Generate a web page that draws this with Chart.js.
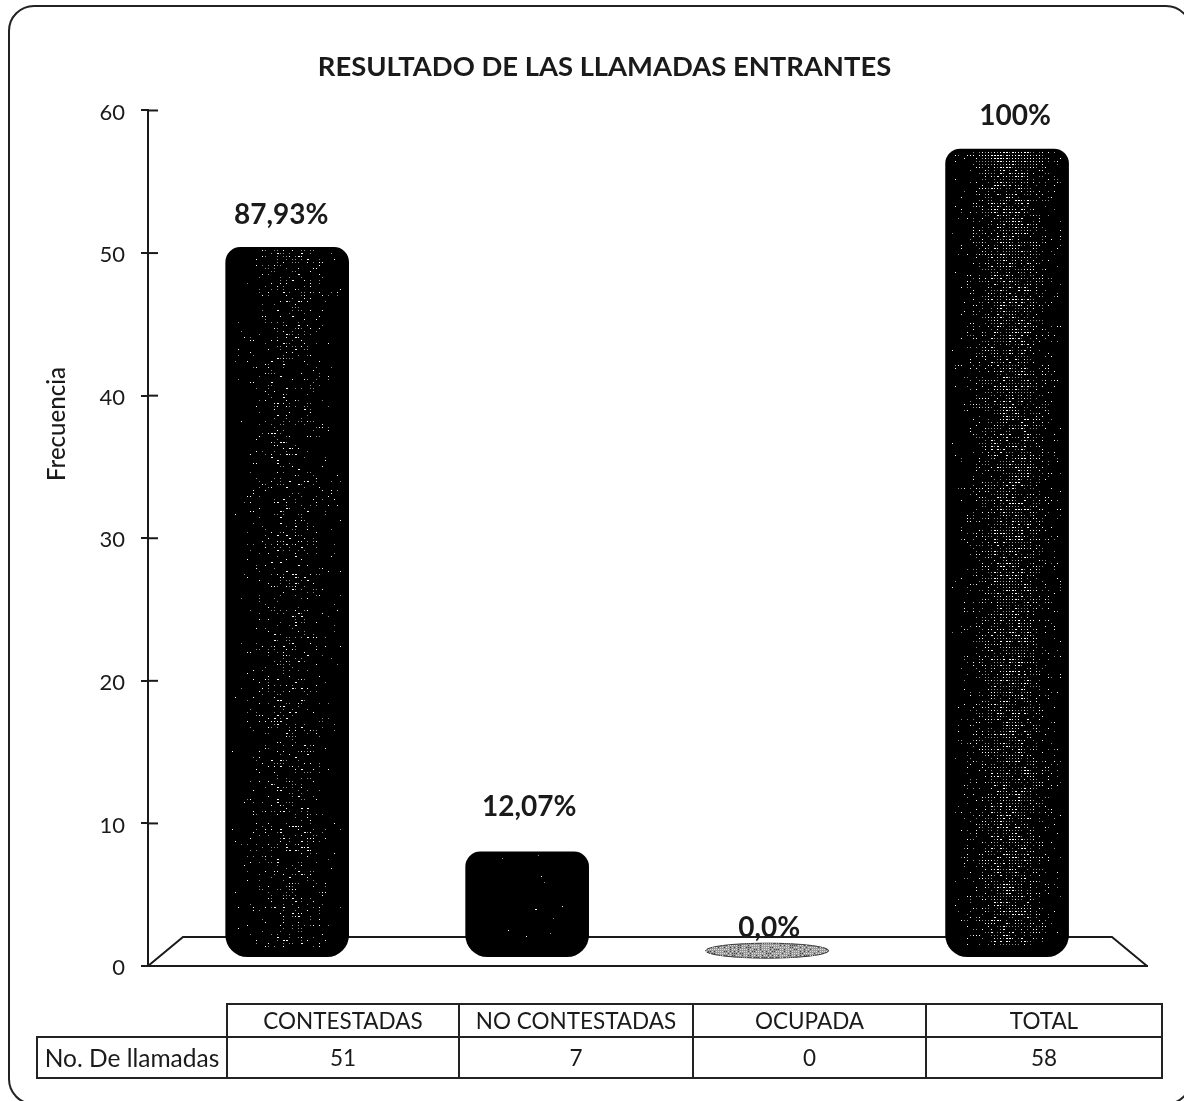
<!DOCTYPE html>
<html lang="es">
<head>
<meta charset="utf-8">
<title>Resultado de las llamadas entrantes</title>
<script src="https://cdn.jsdelivr.net/npm/chart.js@4"></script>
<style>
  html, body { margin: 0; padding: 0; background: #fff; }
  body { position: relative; width: 1184px; height: 1101px; overflow: hidden; font-family: Lato, sans-serif; color: #1a1a1a; }
  #chart { position: absolute; left: 0; top: 0; }
  .frame { position: absolute; left: 8px; top: 5px; width: 1184px; height: 1100px; border: 2px solid #222; border-radius: 26px; box-sizing: border-box; }
  #dataTable { position: absolute; left: 36px; top: 1003px; border-collapse: collapse; table-layout: fixed; width: 1125px; font-size: 22.5px; text-align: center; }
  #dataTable td { border: 2px solid #222; padding: 0; }
  #dataTable td.blank { border: none; }
  #dataTable td.rowName { font-size: 24.5px; white-space: nowrap; }
  #dataTable tr:first-child td { height: 31px; }
  #dataTable tr:last-child td { height: 39px; }
</style>
</head>
<body>
<div class="frame"></div>
<canvas id="chart" width="1184" height="1101"></canvas>
<table id="dataTable"></table>

<script>
// ── Data ────────────────────────────────────────────────────────────────────
const categories = ['CONTESTADAS', 'NO CONTESTADAS', 'OCUPADA', 'TOTAL'];
const callCounts = [51, 7, 0, 58];
const percentLabels = ['87,93%', '12,07%', '0,0%', '100%'];
// where the drawn bars sit on the axis (3D look, so not the table values)
const barTops = [50.4, 8.0, 1.6, 57.3];
const barBases = [0.65, 0.65, 0.55, 0.65];
const yTicks = [0, 10, 20, 30, 40, 50, 60];

// ── Styling per bar ─────────────────────────────────────────────────────────
const INK = '#1a1a1a';
const speckStrength = [0.28, 0.012, 0, 0.8];
const labelNudge = [[-6, -32], [2, -45], [2, -15], [8, -33]];

// repeatable grain for the scanned look, not data
function grain(x, y) {
  const s = Math.sin(x * 12.9898 + y * 78.233) * 43758.5453;
  return s - Math.floor(s);
}

const floorPlugin = {
  id: 'floor',
  beforeDatasetsDraw(chart) {
    const { ctx, chartArea: a } = chart;
    ctx.save();
    ctx.strokeStyle = INK;
    ctx.lineWidth = 2;
    ctx.beginPath();
    ctx.moveTo(a.left, a.bottom);
    ctx.lineTo(a.left + 35, a.bottom - 29);
    ctx.lineTo(a.right - 35, a.bottom - 29);
    ctx.lineTo(a.right, a.bottom);
    ctx.stroke();
    ctx.restore();
  }
};

const cylinderPlugin = {
  id: 'cylinder',
  afterDatasetsDraw(chart) {
    const { ctx } = chart;
    const bars = chart.getDatasetMeta(0).data;
    ctx.save();
    bars.forEach((bar, i) => {
      const hw = bar.width / 2;
      const top = bar.y, bottom = bar.base;

      // the empty category is only the cylinder's flat lid
      if (i === 2) {
        const cy = (top + bottom) / 2, ry = (bottom - top) / 2;
        ctx.fillStyle = '#9a9a9a';
        ctx.strokeStyle = '#333';
        ctx.lineWidth = 1;
        ctx.beginPath();
        ctx.ellipse(bar.x, cy, hw, ry, 0, 0, Math.PI * 2);
        ctx.fill();
        ctx.stroke();
        ctx.save();
        ctx.clip();
        for (let y = top; y < bottom; y += 2) {
          for (let x = bar.x - hw; x < bar.x + hw; x += 2) {
            ctx.fillStyle = grain(x, y) < 0.4 ? '#444' : '#ddd';
            ctx.fillRect(Math.round(x), Math.round(y), 1, 1);
          }
        }
        ctx.restore();
        return;
      }

      const strength = speckStrength[i];
      for (let y = top + 3; y < bottom - 10; y += 3) {
        // brighter patch just under the lid
        const lid = Math.max(0, 1 - Math.abs(y - top - 8) / 12);
        for (let x = bar.x - hw + 6; x < bar.x + hw - 6; x += 3) {
          const d = (x - bar.x - 2) / (hw * 0.55);
          const p = strength * Math.exp(-d * d) * (1 + 1.5 * lid);
          const g = grain(x, y);
          if (g < p) {
            ctx.fillStyle = g < p * 0.45 ? '#fff' : '#8c8c8c';
            ctx.fillRect(Math.round(x), Math.round(y), 1, 1);
            if (g < p * 0.2 && Math.abs(d) < 0.6) ctx.fillRect(Math.round(x) + 1, Math.round(y), 1, 1);
          }
        }
      }
    });
    ctx.restore();
  }
};

const annotationPlugin = {
  id: 'annotations',
  afterDraw(chart) {
    const { ctx, chartArea: a, scales: { y } } = chart;
    const bars = chart.getDatasetMeta(0).data;
    ctx.save();

    // ticks run through the axis line
    ctx.strokeStyle = INK;
    ctx.lineWidth = 2;
    yTicks.slice(1).forEach(v => {
      const py = y.getPixelForValue(v);
      ctx.beginPath();
      ctx.moveTo(a.left, py);
      ctx.lineTo(a.left + 10, py);
      ctx.stroke();
    });

    // percentage above each bar
    ctx.fillStyle = INK;
    ctx.font = 'bold 28px Lato';
    ctx.textAlign = 'center';
    ctx.textBaseline = 'middle';
    bars.forEach((bar, i) => {
      ctx.fillText(percentLabels[i], bar.x + labelNudge[i][0], bar.y + labelNudge[i][1]);
    });

    // axis title sits above the middle of the axis in the original
    ctx.font = '500 24px Lato';
    ctx.translate(57, 424);
    ctx.rotate(-Math.PI / 2);
    ctx.fillText('Frecuencia', 0, 0);
    ctx.restore();
  }
};

new Chart(document.getElementById('chart'), {
  type: 'bar',
  data: {
    datasets: [{
      label: 'No. De llamadas',
      data: categories.map((c, i) => ({ x: i, y: [barBases[i], barTops[i]] })),
      backgroundColor: ['#000', '#000', 'rgba(0,0,0,0)', '#000'],
      borderRadius: { topLeft: 15, topRight: 15, bottomLeft: 22, bottomRight: 22 },
      borderSkipped: false,
      barThickness: 123
    }]
  },
  options: {
    responsive: false,
    animation: false,
    layout: { padding: { left: 62, right: 37, top: 0, bottom: 127 } },
    plugins: {
      legend: { display: false },
      tooltip: { enabled: false },
      title: {
        display: true,
        text: 'RESULTADO DE LAS LLAMADAS ENTRANTES',
        color: INK,
        font: { family: 'Lato', size: 27.4, weight: 'bold' },
        padding: { top: 51, bottom: 26.6 }
      }
    },
    scales: {
      x: {
        type: 'linear',
        offset: false,
        min: -0.58,
        max: 3.583,
        ticks: { display: false },
        grid: { display: false, offset: false },
        border: { color: INK, width: 2 }
      },
      y: {
        min: 0,
        max: 60,
        afterFit(scale) { scale.width = 86; },
        afterBuildTicks(scale) { scale.ticks = yTicks.map(value => ({ value })); },
        ticks: { color: INK, font: { family: 'Lato', size: 22 }, padding: 16, labelOffset: 2 },
        grid: { drawOnChartArea: false, tickLength: 7, color: INK, lineWidth: 2 },
        border: { color: INK, width: 2 }
      }
    }
  },
  plugins: [floorPlugin, cylinderPlugin, annotationPlugin]
});

// ── Data table under the chart ──────────────────────────────────────────────
document.getElementById('dataTable').innerHTML = `
  <colgroup><col style="width:190px"><col style="width:232px"><col style="width:234px"><col style="width:233px"><col style="width:236px"></colgroup>
  <tr><td class="blank"></td>${categories.map(c => `<td>${c}</td>`).join('')}</tr>
  <tr><td class="rowName">No. De llamadas</td>${callCounts.map(n => `<td>${n}</td>`).join('')}</tr>
`;
</script>
</body>
</html>
